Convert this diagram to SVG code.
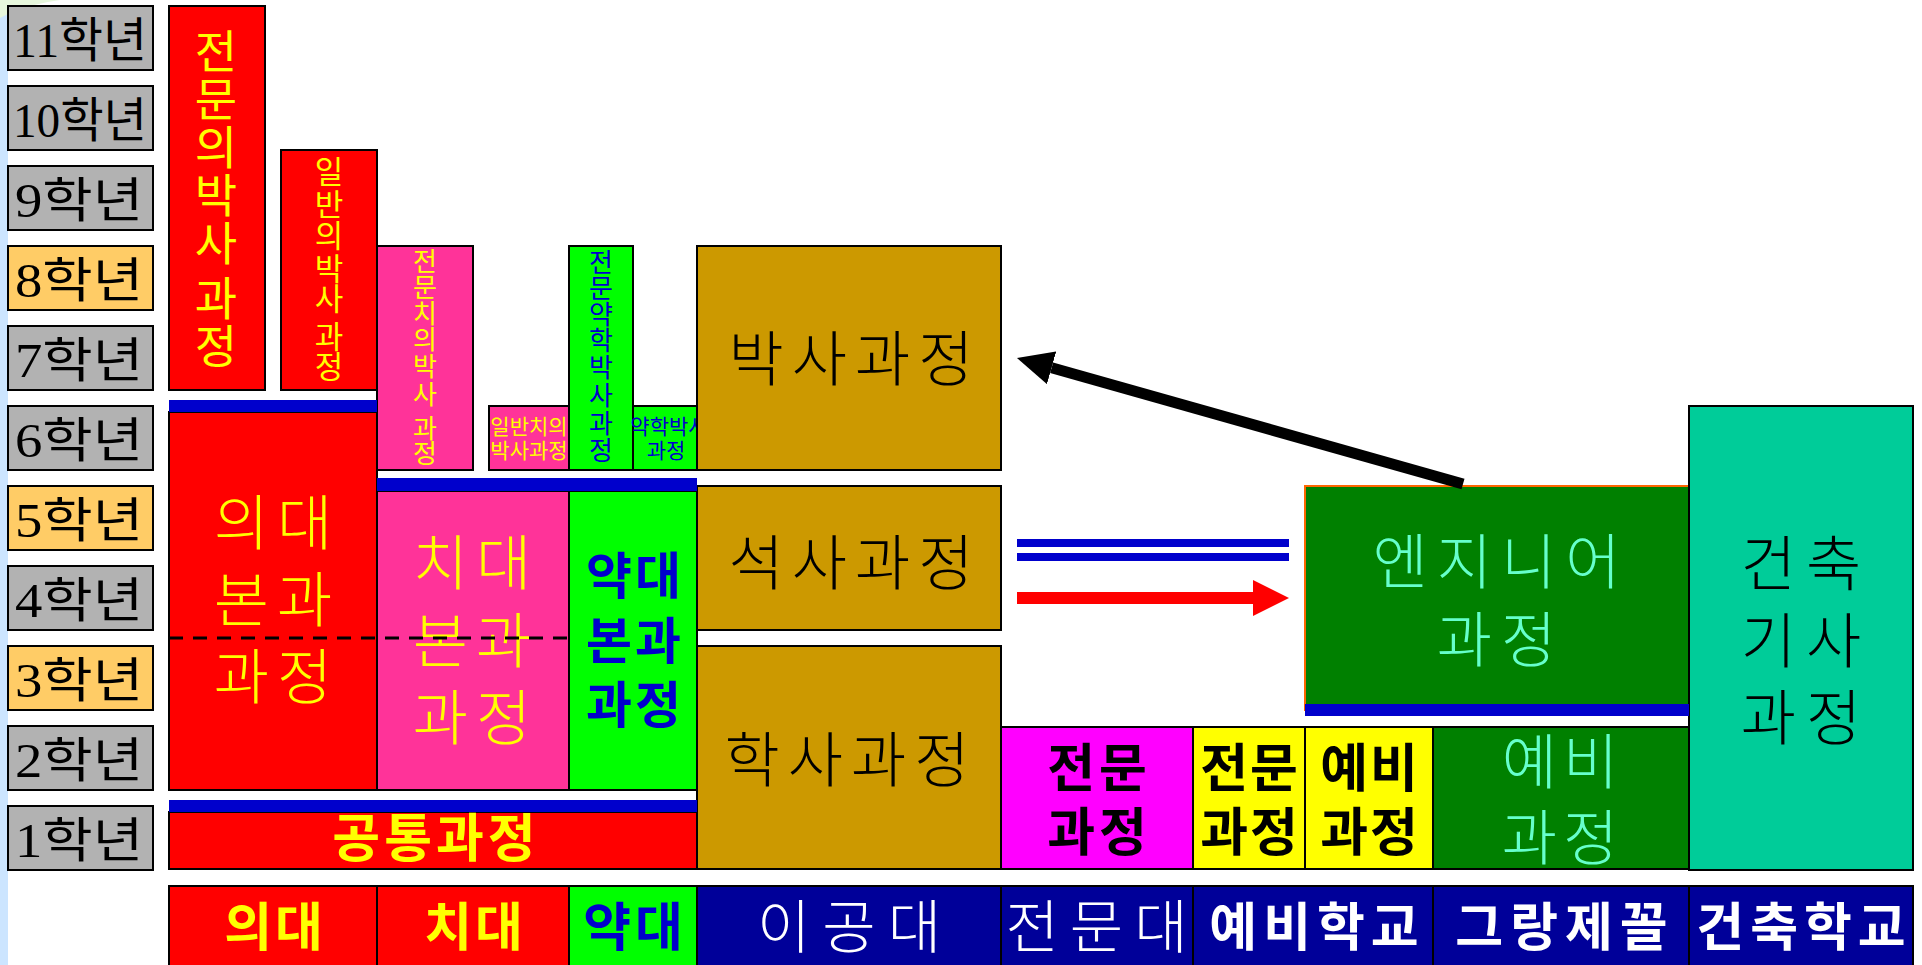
<svg xmlns="http://www.w3.org/2000/svg" width="1922" height="965" viewBox="0 0 1922 965">
<style>
.kr{font-family:"Noto Sans CJK KR","Noto Sans CJK SC",sans-serif;text-anchor:middle}
.yr{font-family:"Liberation Serif","Noto Sans CJK KR",serif;font-size:48px;fill:#000}
.b{font-weight:bold}
.l{font-weight:300}
.box{stroke:#000;stroke-width:2}
.gray{fill:#B2B2B2}
.org{fill:#FFCC66}
.bar{fill:#0000CC}
</style>
<defs>
<marker id="ahBlack" markerUnits="userSpaceOnUse" markerWidth="36" markerHeight="34" viewBox="0 0 36 34" refX="0" refY="17" orient="auto"><path d="M0,0 L36,17 L0,34 Z" fill="#000"/></marker>
<marker id="ahRed" markerUnits="userSpaceOnUse" markerWidth="36" markerHeight="36" viewBox="0 0 36 36" refX="0" refY="18" orient="auto"><path d="M0,0 L36,18 L0,36 Z" fill="#FF0000"/></marker>
</defs>
<rect x="0" y="0" width="1922" height="965" fill="#fff"/>
<rect x="0" y="0" width="8" height="965" fill="#CCE5FF"/>
<path d="M0,0 L60,0 Q30,4 8,14 L0,18 Z" fill="#E6F6DC"/>

<g id="years">
<g id="y11"><rect class="box gray" x="8" y="6" width="145" height="64"/><text class="yr" x="13" y="57" textLength="134" lengthAdjust="spacingAndGlyphs">11학년</text></g>
<g id="y10"><rect class="box gray" x="8" y="86" width="145" height="64"/><text class="yr" x="13" y="137" textLength="134" lengthAdjust="spacingAndGlyphs">10학년</text></g>
<g id="y9"><rect class="box gray" x="8" y="166" width="145" height="64"/><text class="yr" x="15" y="217" textLength="128" lengthAdjust="spacingAndGlyphs">9학년</text></g>
<g id="y8"><rect class="box org" x="8" y="246" width="145" height="64"/><text class="yr" x="15" y="297" textLength="128" lengthAdjust="spacingAndGlyphs">8학년</text></g>
<g id="y7"><rect class="box gray" x="8" y="326" width="145" height="64"/><text class="yr" x="15" y="377" textLength="128" lengthAdjust="spacingAndGlyphs">7학년</text></g>
<g id="y6"><rect class="box gray" x="8" y="406" width="145" height="64"/><text class="yr" x="15" y="457" textLength="128" lengthAdjust="spacingAndGlyphs">6학년</text></g>
<g id="y5"><rect class="box org" x="8" y="486" width="145" height="64"/><text class="yr" x="15" y="537" textLength="128" lengthAdjust="spacingAndGlyphs">5학년</text></g>
<g id="y4"><rect class="box gray" x="8" y="566" width="145" height="64"/><text class="yr" x="15" y="617" textLength="128" lengthAdjust="spacingAndGlyphs">4학년</text></g>
<g id="y3"><rect class="box org" x="8" y="646" width="145" height="64"/><text class="yr" x="15" y="697" textLength="128" lengthAdjust="spacingAndGlyphs">3학년</text></g>
<g id="y2"><rect class="box gray" x="8" y="726" width="145" height="64"/><text class="yr" x="15" y="777" textLength="128" lengthAdjust="spacingAndGlyphs">2학년</text></g>
<g id="y1"><rect class="box gray" x="8" y="806" width="145" height="64"/><text class="yr" x="15" y="857" textLength="128" lengthAdjust="spacingAndGlyphs">1학년</text></g>
</g>

<g id="med-phd">
<rect class="box" x="169" y="6" width="96" height="384" fill="#FF0000"/>
<text class="kr" font-size="46" fill="#FFFF00"><tspan x="216" y="68">전</tspan><tspan x="216" y="116">문</tspan><tspan x="216" y="164">의</tspan><tspan x="216" y="212">박</tspan><tspan x="216" y="260">사</tspan><tspan x="216" y="315">과</tspan><tspan x="216" y="363">정</tspan></text>
</g>
<g id="med-gen-phd">
<rect class="box" x="281" y="150" width="96" height="240" fill="#FF0000"/>
<text class="kr" font-size="31" fill="#FFFF00"><tspan x="329" y="183">일</tspan><tspan x="329" y="216">반</tspan><tspan x="329" y="247">의</tspan><tspan x="329" y="280">박</tspan><tspan x="329" y="310">사</tspan><tspan x="329" y="348">과</tspan><tspan x="329" y="378">정</tspan></text>
</g>
<g id="dent-phd">
<rect class="box" x="377" y="246" width="96" height="224" fill="#FF3399"/>
<text class="kr" font-size="26" fill="#FFFF00"><tspan x="425" y="271">전</tspan><tspan x="425" y="297">문</tspan><tspan x="425" y="323">치</tspan><tspan x="425" y="349">의</tspan><tspan x="425" y="376">박</tspan><tspan x="425" y="404">사</tspan><tspan x="425" y="438">과</tspan><tspan x="425" y="463">정</tspan></text>
</g>
<g id="dent-gen-phd">
<rect class="box" x="489" y="406" width="80" height="64" fill="#FF3399"/>
<text class="kr" font-size="21" fill="#FFFF00"><tspan x="529" y="434">일반치의</tspan><tspan x="529" y="458">박사과정</tspan></text>
</g>
<g id="pharm-phd">
<rect class="box" x="569" y="246" width="64" height="224" fill="#00FF00"/>
<text class="kr" font-size="26" fill="#0000CC"><tspan x="601" y="272">전</tspan><tspan x="601" y="298">문</tspan><tspan x="601" y="324">약</tspan><tspan x="601" y="350">학</tspan><tspan x="601" y="377">박</tspan><tspan x="601" y="405">사</tspan><tspan x="601" y="433">과</tspan><tspan x="601" y="460">정</tspan></text>
</g>
<g id="pharm-phd2">
<rect class="box" x="633" y="406" width="64" height="64" fill="#00FF00"/>
<text class="kr" font-size="21" fill="#0000CC"><tspan x="669" y="434">약학박사</tspan><tspan x="666" y="458">과정</tspan></text>
</g>
<g id="phd">
<rect class="box" x="697" y="246" width="304" height="224" fill="#CC9900"/>
<text class="kr l" x="855" y="381" font-size="60" fill="#000" letter-spacing="8">박사과정</text>
</g>
<g id="master">
<rect class="box" x="697" y="486" width="304" height="144" fill="#CC9900"/>
<text class="kr l" x="855" y="585" font-size="60" fill="#000" letter-spacing="8">석사과정</text>
</g>
<g id="bachelor">
<rect class="box" x="697" y="646" width="304" height="223" fill="#CC9900"/>
<text class="kr l" x="851" y="782" font-size="60" fill="#000" letter-spacing="8">학사과정</text>
</g>

<g id="med-main">
<rect class="box" x="169" y="412" width="208" height="378" fill="#FF0000"/>
<text class="kr l" font-size="60" fill="#FFFF00" letter-spacing="8"><tspan x="277" y="545">의대</tspan><tspan x="277" y="622">본과</tspan><tspan x="277" y="699">과정</tspan></text>
</g>
<g id="dent-main">
<rect class="box" x="377" y="491" width="192" height="299" fill="#FF3399"/>
<text class="kr l" font-size="60" fill="#FFFF00" letter-spacing="8"><tspan x="476" y="585">치대</tspan><tspan x="476" y="663">본과</tspan><tspan x="476" y="740">과정</tspan></text>
</g>
<g id="pharm-main">
<rect class="box" x="569" y="491" width="128" height="299" fill="#00FF00"/>
<text class="kr b" font-size="50" fill="#0000CC" letter-spacing="3"><tspan x="635" y="594">약대</tspan><tspan x="635" y="659">본과</tspan><tspan x="635" y="723">과정</tspan></text>
</g>
<g id="common">
<rect class="box" x="169" y="812" width="528" height="57" fill="#FF0000"/>
<text class="kr b" x="436" y="857" font-size="52" fill="#FFFF00" letter-spacing="4">공통과정</text>
</g>

<g id="special-mag">
<rect class="box" x="1001" y="727" width="192" height="142" fill="#FF00FF"/>
<text class="kr b" font-size="52" fill="#000" letter-spacing="4"><tspan x="1099" y="787">전문</tspan><tspan x="1099" y="851">과정</tspan></text>
</g>
<g id="special-yel">
<rect class="box" x="1193" y="727" width="112" height="142" fill="#FFFF00"/>
<text class="kr b" font-size="52" fill="#000" letter-spacing="2"><tspan x="1250" y="787">전문</tspan><tspan x="1250" y="851">과정</tspan></text>
</g>
<g id="prep-yel">
<rect class="box" x="1305" y="727" width="128" height="142" fill="#FFFF00"/>
<text class="kr b" font-size="52" fill="#000" letter-spacing="2"><tspan x="1370" y="787">예비</tspan><tspan x="1370" y="851">과정</tspan></text>
</g>
<g id="prep-green">
<rect class="box" x="1433" y="727" width="256" height="142" fill="#008000"/>
<text class="kr l" font-size="60" fill="#66FFCC" letter-spacing="6"><tspan x="1563" y="784">예비</tspan><tspan x="1563" y="860">과정</tspan></text>
</g>
<g id="engineer">
<rect x="1305" y="486" width="384" height="224" fill="#008000" stroke="#FF6600" stroke-width="2"/>
<text class="kr l" font-size="60" fill="#66FFCC" letter-spacing="9"><tspan x="1501" y="584">엔지니어</tspan><tspan x="1501" y="662">과정</tspan></text>
</g>
<g id="arch">
<rect class="box" x="1689" y="406" width="224" height="464" fill="#00CC99"/>
<text class="kr l" font-size="60" fill="#000" letter-spacing="10"><tspan x="1806" y="586">건축</tspan><tspan x="1806" y="663">기사</tspan><tspan x="1806" y="740">과정</tspan></text>
</g>

<g id="bars">
<rect class="bar" x="169" y="400" width="208" height="12"/>
<rect class="bar" x="377" y="478" width="320" height="13"/>
<rect class="bar" x="169" y="800" width="528" height="12"/>
<rect class="bar" x="1305" y="704" width="384" height="12"/>
<line x1="169" y1="638" x2="569" y2="638" stroke="#000" stroke-width="3" stroke-dasharray="14,10"/>
</g>

<g id="schools">
<g id="s-med"><rect class="box" x="169" y="886" width="208" height="82" fill="#FF0000"/><text class="kr b" x="275" y="946" font-size="52" fill="#FFFF00" letter-spacing="3">의대</text></g>
<g id="s-dent"><rect class="box" x="377" y="886" width="192" height="82" fill="#FF0000"/><text class="kr b" x="475" y="946" font-size="52" fill="#FFFF00" letter-spacing="3">치대</text></g>
<g id="s-pharm"><rect class="box" x="569" y="886" width="128" height="82" fill="#00FF00"/><text class="kr b" x="635" y="946" font-size="52" fill="#0000CC" letter-spacing="4">약대</text></g>
<g id="s-eng"><rect class="box" x="697" y="886" width="304" height="82" fill="#000099"/><text class="kr l" x="855" y="948" font-size="58" fill="#fff" letter-spacing="12">이공대</text></g>
<g id="s-coll"><rect class="box" x="1001" y="886" width="192" height="82" fill="#000099"/><text class="kr l" x="1102" y="948" font-size="58" fill="#fff" letter-spacing="11">전문대</text></g>
<g id="s-prep"><rect class="box" x="1193" y="886" width="240" height="82" fill="#000099"/><text class="kr b" x="1317" y="946" font-size="52" fill="#fff" letter-spacing="6">예비학교</text></g>
<g id="s-grand"><rect class="box" x="1433" y="886" width="256" height="82" fill="#000099"/><text class="kr b" x="1565" y="946" font-size="52" fill="#fff" letter-spacing="7">그랑제꼴</text></g>
<g id="s-arch"><rect class="box" x="1689" y="886" width="224" height="82" fill="#000099"/><text class="kr b" x="1804" y="946" font-size="52" fill="#fff" letter-spacing="6">건축학교</text></g>
</g>

<g id="connectors">
<line x1="1463" y1="484" x2="1051.6" y2="367.8" stroke="#000" stroke-width="11" marker-end="url(#ahBlack)"/>
<line x1="1017" y1="543" x2="1289" y2="543" stroke="#0000CC" stroke-width="8"/>
<line x1="1017" y1="557" x2="1289" y2="557" stroke="#0000CC" stroke-width="8"/>
<line x1="1017" y1="598" x2="1253" y2="598" stroke="#FF0000" stroke-width="12" marker-end="url(#ahRed)"/>
</g>
</svg>
